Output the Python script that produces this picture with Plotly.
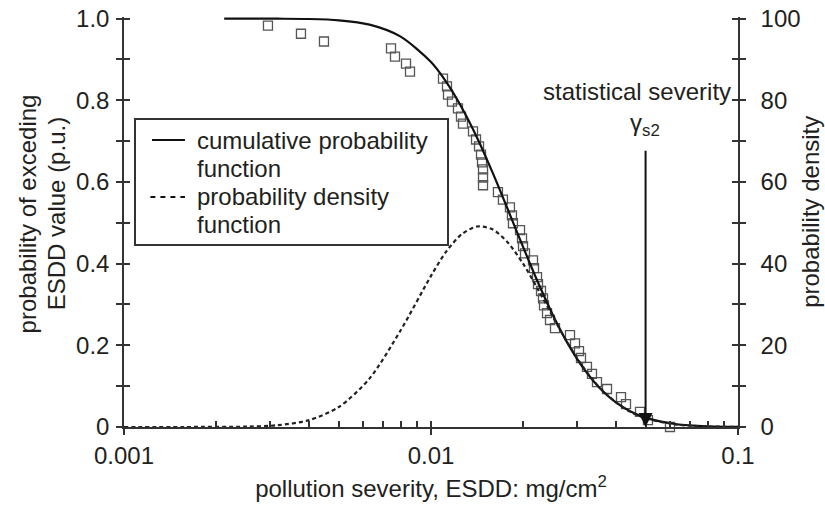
import math
import plotly.graph_objects as go

# ---------------- data ----------------
# Observed exceedance points (ESDD in mg/cm2, probability p.u.)
OBS_ESDD = [0.002944, 0.003771, 0.004481, 0.007408, 0.007633, 0.008290, 0.008543,
            0.010941, 0.011274, 0.011360, 0.011705, 0.012242, 0.012521, 0.012710,
            0.013703, 0.014016, 0.014336, 0.014552, 0.014660, 0.014772, 0.014772,
            0.014772, 0.016523, 0.017154, 0.018078, 0.018350, 0.018490, 0.019497,
            0.019790, 0.019940, 0.020241, 0.021489, 0.021653, 0.022147, 0.022311,
            0.022820, 0.023164, 0.023341, 0.023873, 0.024412, 0.025345, 0.028364,
            0.029447, 0.030343, 0.030800, 0.032214, 0.033448, 0.034725, 0.037436,
            0.041580, 0.043170, 0.047950, 0.050898, 0.060050]
OBS_PROB = [0.983, 0.963, 0.944, 0.927, 0.907, 0.890, 0.870,
            0.853, 0.834, 0.814, 0.797, 0.780, 0.760, 0.743,
            0.724, 0.704, 0.687, 0.667, 0.648, 0.631, 0.611,
            0.592, 0.575, 0.557, 0.538, 0.518, 0.499, 0.482,
            0.462, 0.443, 0.425, 0.408, 0.389, 0.367, 0.350,
            0.333, 0.315, 0.298, 0.279, 0.262, 0.242, 0.225,
            0.205, 0.186, 0.169, 0.147, 0.130, 0.110, 0.093,
            0.073, 0.056, 0.037, 0.017, 0.000]

# Cumulative probability function (probability of exceeding)
CDF_ESDD = [0.00212, 0.0025, 0.00316, 0.00398, 0.00501, 0.00631, 0.00794, 0.0100,
            0.01122, 0.01259, 0.01413, 0.01585, 0.01778, 0.01995, 0.02239,
            0.02512, 0.02818, 0.03162, 0.03548, 0.03981, 0.04467, 0.05012,
            0.0631, 0.0794, 0.1]
CDF_PROB = [1.0, 1.0, 0.9998, 0.9991, 0.9959, 0.9853, 0.9565, 0.8938,
            0.8447, 0.7826, 0.7085, 0.6241, 0.5334, 0.4409, 0.3514,
            0.2696, 0.1986, 0.1403, 0.0948, 0.0613, 0.0378, 0.0223,
            0.0067, 0.0016, 0.0003]

# Probability density function (right axis)
PDF_ESDD = [0.001, 0.00158, 0.00251, 0.00316, 0.00398, 0.00501, 0.00631, 0.00794,
            0.0100, 0.01122, 0.01259, 0.01413, 0.01585, 0.01778, 0.01995,
            0.02239, 0.02512, 0.02818, 0.03162, 0.03548, 0.03981, 0.04467,
            0.05012, 0.0631, 0.0794, 0.1]
PDF_DENS = [0.0, 0.002, 0.09, 0.43, 1.62, 4.90, 11.9, 23.5,
            37.0, 43.0, 47.2, 49.1, 48.4, 45.2, 40.0,
            33.5, 26.6, 20.0, 14.2, 9.6, 6.2, 3.7,
            2.1, 0.6, 0.14, 0.03]

STAT_SEVERITY = 0.05

X_TICKS = [0.001, 0.01, 0.1]
X_TICKTEXT = ["0.001", "0.01", "0.1"]
X_MINOR = [m * 10 ** e for e in (-3, -2) for m in range(1, 10)] + [0.1]
Y_TICKS = [0, 0.1, 0.2, 0.3, 0.4, 0.5, 0.6, 0.7, 0.8, 0.9, 1.0]
Y_TICKTEXT = ["0", "", "0.2", "", "0.4", "", "0.6", "", "0.8", "", "1.0"]
Y2_TICKS = [0, 10, 20, 30, 40, 50, 60, 70, 80, 90, 100]
Y2_TICKTEXT = ["0", "", "20", "", "40", "", "60", "", "80", "", "100"]

# ---------------- styling ----------------
FONT = "Liberation Sans, Arial, Helvetica, sans-serif"
TXT = "#231f20"
AX = "#333333"
FS = 24

fig = go.Figure()

fig.add_trace(go.Scatter(
    x=OBS_ESDD, y=OBS_PROB, mode="markers", xaxis="x", yaxis="y",
    marker=dict(symbol="square-open", size=9, color="#555555",
                line=dict(width=1.3, color="#555555")),
    cliponaxis=False, showlegend=False, hoverinfo="skip"))

fig.add_trace(go.Scatter(
    x=PDF_ESDD, y=PDF_DENS, mode="lines", xaxis="x", yaxis="y2",
    line=dict(color="#222222", width=2.2, dash="4px,3px", shape="spline", smoothing=0.8),
    showlegend=False, hoverinfo="skip"))

fig.add_trace(go.Scatter(
    x=CDF_ESDD, y=CDF_PROB, mode="lines", xaxis="x", yaxis="y",
    line=dict(color="#111111", width=2.2, shape="spline", smoothing=0.8),
    showlegend=False, hoverinfo="skip"))

# empty helper traces so overlay tick axes exist
fig.add_trace(go.Scatter(x=[], y=[], xaxis="x2", yaxis="y", showlegend=False, hoverinfo="skip"))
fig.add_trace(go.Scatter(x=[], y=[], xaxis="x", yaxis="y3", showlegend=False, hoverinfo="skip"))
fig.add_trace(go.Scatter(x=[], y=[], xaxis="x", yaxis="y4", showlegend=False, hoverinfo="skip"))

XR = [-3, -1]
YR = [0, 1.004]
Y2R = [0, 100.4]

fig.update_layout(
    width=825, height=506,
    margin=dict(l=124, r=87, t=17, b=79, autoexpand=False),
    paper_bgcolor="white", plot_bgcolor="white",
    font=dict(family=FONT, size=FS, color=TXT),
    xaxis=dict(type="log", range=XR, showgrid=False, zeroline=False, automargin=False,
               showline=True, linecolor=AX, linewidth=1.5,
               ticks="outside", ticklen=6, tickwidth=1.5, tickcolor=AX,
               tickvals=X_TICKS, ticktext=X_TICKTEXT, tickfont=dict(size=FS),
               anchor="y",
               title=dict(text="pollution severity, ESDD: mg/cm<sup>2</sup>",
                          font=dict(size=FS), standoff=13)),
    xaxis2=dict(type="log", range=XR, overlaying="x", anchor="y", side="bottom",
                showgrid=False, zeroline=False, showline=False, automargin=False,
                ticks="inside", ticklen=6, tickwidth=1.5, tickcolor=AX,
                tickvals=X_MINOR, showticklabels=False),
    yaxis=dict(range=YR, showgrid=False, zeroline=False, automargin=False,
               showline=True, linecolor=AX, linewidth=1.5,
               ticks="outside", ticklen=6, tickwidth=1.5, tickcolor=AX,
               tickvals=Y_TICKS, ticktext=Y_TICKTEXT, tickfont=dict(size=FS),
               ticklabelstandoff=2, anchor="x"),
    yaxis2=dict(range=Y2R, overlaying="y", side="right", anchor="x",
                showgrid=False, zeroline=False, automargin=False,
                showline=True, linecolor=AX, linewidth=1.5,
                ticks="outside", ticklen=6, tickwidth=1.5, tickcolor=AX,
                tickvals=Y2_TICKS, ticktext=Y2_TICKTEXT, tickfont=dict(size=FS),
                ticklabelstandoff=10),
    yaxis3=dict(range=YR, overlaying="y", side="left", anchor="x", automargin=False,
                showgrid=False, zeroline=False, showline=False,
                ticks="inside", ticklen=6, tickwidth=1.5, tickcolor=AX,
                tickvals=Y_TICKS, showticklabels=False),
    yaxis4=dict(range=Y2R, overlaying="y", side="right", anchor="x", automargin=False,
                showgrid=False, zeroline=False, showline=False,
                ticks="inside", ticklen=6, tickwidth=1.5, tickcolor=AX,
                tickvals=Y2_TICKS, showticklabels=False),
)

ann = []
# left axis title (two lines)
ann.append(dict(text="probability of exceding", xref="paper", yref="paper",
                x=-0.157, y=0.52, textangle=-90, showarrow=False,
                xanchor="center", yanchor="middle", font=dict(size=FS)))
ann.append(dict(text="ESDD value (p.u.)", xref="paper", yref="paper",
                x=-0.110, y=0.52, textangle=-90, showarrow=False,
                xanchor="center", yanchor="middle", font=dict(size=FS)))
# right axis title
ann.append(dict(text="probability density", xref="paper", yref="paper",
                x=1.119, y=0.525, textangle=-90, showarrow=False,
                xanchor="center", yanchor="middle", font=dict(size=FS)))

# statistical severity marker
sx = math.log10(STAT_SEVERITY)
ann.append(dict(text="", x=sx, y=0, xref="x", yref="y", ax=sx, ay=0.68,
                axref="x", ayref="y", showarrow=True, arrowhead=2, arrowsize=1.4,
                arrowwidth=2, arrowcolor="#111111", standoff=0, startstandoff=0))
ann.append(dict(text="statistical severity", xref="paper", yref="paper",
                x=0.8355, y=0.8195, showarrow=False, xanchor="center", yanchor="middle",
                font=dict(size=FS)))
ann.append(dict(text="\u03b3<sub>s2</sub>", xref="paper", yref="paper",
                x=0.849, y=0.738, showarrow=False, xanchor="center", yanchor="middle",
                font=dict(size=FS)))

# manual legend
LEG_TEXT = ["cumulative probability", "function", "probability density", "function"]
LEG_Y = [0.700, 0.6317, 0.561, 0.4927]
for t, yy in zip(LEG_TEXT, LEG_Y):
    ann.append(dict(text=t, xref="paper", yref="paper", x=0.1156, y=yy,
                    showarrow=False, xanchor="left", yanchor="middle", font=dict(size=FS)))

shapes = [
    dict(type="rect", xref="paper", yref="paper", x0=0.0179, x1=0.5277, y0=0.4439, y1=0.7512,
         line=dict(color="#333333", width=2), fillcolor="white", layer="above"),
    dict(type="line", xref="paper", yref="paper", x0=0.0456, x1=0.0993, y0=0.700, y1=0.700,
         line=dict(color="#111111", width=2)),
    dict(type="line", xref="paper", yref="paper", x0=0.0430, x1=0.0993, y0=0.561, y1=0.561,
         line=dict(color="#111111", width=2, dash="5px,5px")),
]
fig.update_layout(annotations=ann, shapes=shapes)

fig.write_html("out.html")
